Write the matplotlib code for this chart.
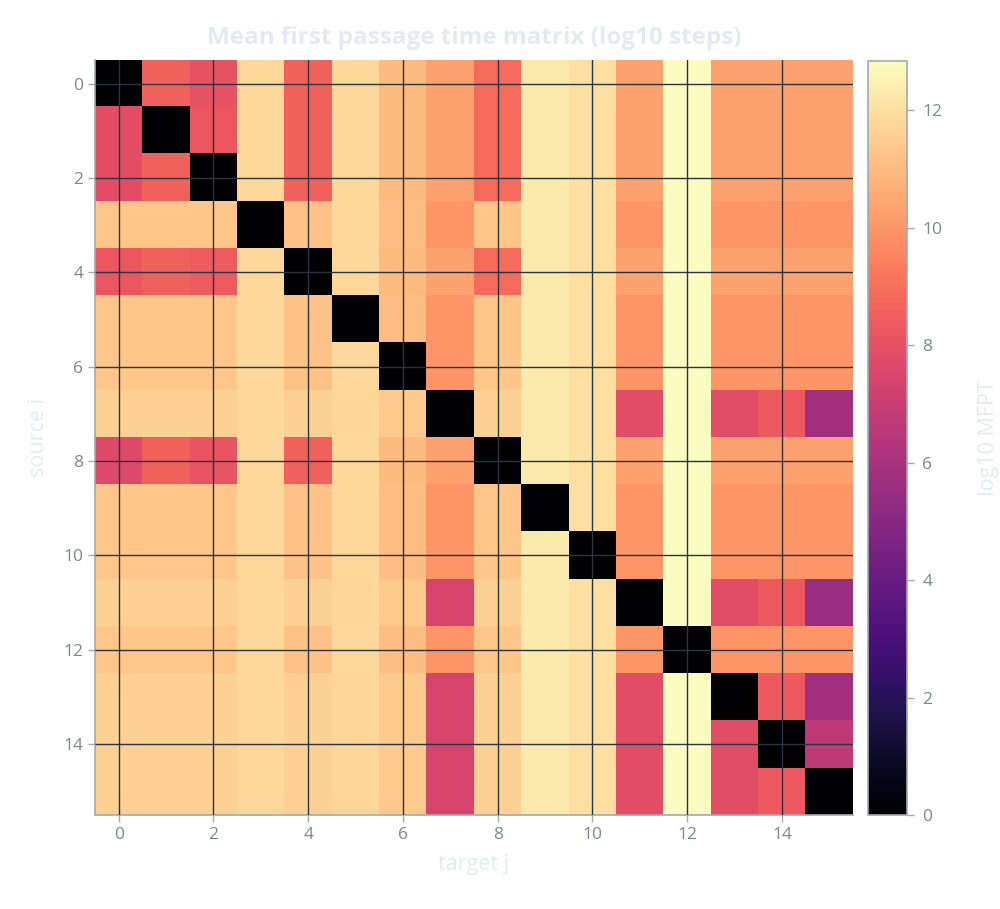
import numpy as np
import matplotlib
matplotlib.use('Agg')
import matplotlib.pyplot as plt

plt.rcParams['font.family'] = ['Open Sans', 'DejaVu Sans']

# log10 mean first passage time, one list per source state i (targets j = 0..15)
src_0 = [0.0, 8.6, 8.1, 11.8, 8.6, 11.8, 11.0, 10.3, 8.85, 12.3, 12.0, 10.3, 12.8, 10.3, 10.3, 10.3]
src_1 = [7.9, 0.0, 8.2, 11.8, 8.6, 11.8, 11.0, 10.3, 8.85, 12.3, 12.0, 10.3, 12.8, 10.3, 10.3, 10.3]
src_2 = [7.9, 8.6, 0.0, 11.8, 8.6, 11.8, 11.0, 10.3, 8.85, 12.3, 12.0, 10.3, 12.8, 10.3, 10.3, 10.3]
src_3 = [11.3, 11.3, 11.3, 0.0, 11.2, 11.8, 11.1, 10.0, 11.3, 12.3, 12.0, 10.0, 12.8, 10.0, 10.0, 10.0]
src_4 = [8.2, 8.6, 8.4, 11.8, 0.0, 11.8, 11.0, 10.3, 8.85, 12.3, 12.0, 10.3, 12.8, 10.3, 10.3, 10.3]
src_5 = [11.3, 11.3, 11.3, 11.8, 11.2, 0.0, 11.1, 10.0, 11.3, 12.3, 12.0, 10.0, 12.8, 10.0, 10.0, 10.0]
src_6 = [11.3, 11.3, 11.3, 11.8, 11.2, 11.8, 0.0, 10.0, 11.3, 12.3, 12.0, 10.0, 12.8, 10.0, 10.0, 10.0]
src_7 = [11.6, 11.6, 11.6, 11.8, 11.6, 11.75, 11.4, 0.0, 11.6, 12.3, 12.0, 7.85, 12.8, 7.85, 8.35, 5.8]
src_8 = [7.7, 8.6, 8.15, 11.8, 8.6, 11.8, 11.0, 10.3, 0.0, 12.3, 12.0, 10.3, 12.8, 10.3, 10.3, 10.3]
src_9 = [11.3, 11.3, 11.3, 11.8, 11.2, 11.8, 11.1, 10.0, 11.3, 0.0, 12.0, 10.0, 12.8, 10.0, 10.0, 10.0]
src_10 = [11.3, 11.3, 11.3, 11.8, 11.2, 11.8, 11.1, 10.0, 11.3, 12.3, 0.0, 10.0, 12.8, 10.0, 10.0, 10.0]
src_11 = [11.6, 11.6, 11.6, 11.8, 11.6, 11.75, 11.4, 7.45, 11.6, 12.3, 12.0, 0.0, 12.8, 7.85, 8.35, 5.6]
src_12 = [11.3, 11.3, 11.3, 11.8, 11.2, 11.8, 11.1, 10.0, 11.3, 12.3, 12.0, 10.0, 0.0, 10.0, 10.0, 10.0]
src_13 = [11.6, 11.6, 11.6, 11.8, 11.6, 11.75, 11.4, 7.45, 11.6, 12.3, 12.0, 7.85, 12.8, 0.0, 8.35, 5.8]
src_14 = [11.6, 11.6, 11.6, 11.8, 11.6, 11.75, 11.4, 7.45, 11.6, 12.3, 12.0, 7.85, 12.8, 7.85, 0.0, 6.7]
src_15 = [11.6, 11.6, 11.6, 11.8, 11.6, 11.75, 11.4, 7.45, 11.6, 12.3, 12.0, 7.85, 12.8, 7.85, 8.35, 0.0]

tick_pos = [0, 2, 4, 6, 8, 10, 12, 14]
cbar_ticks = [0, 2, 4, 6, 8, 10, 12]

mat = np.array([src_0, src_1, src_2, src_3, src_4, src_5, src_6, src_7,
                src_8, src_9, src_10, src_11, src_12, src_13, src_14, src_15])
n = mat.shape[0]

tick_col = '#7f868e'
spine_col = '#a3a9b0'
faint = '#e4eaf1'

fig = plt.figure(figsize=(10, 9.09), dpi=100)
ax = fig.add_axes([0.095, 0.1034, 0.758, 0.8306])
im = ax.imshow(mat, cmap='magma', vmin=0, vmax=12.83, aspect='auto',
               interpolation='nearest', extent=(-0.5, n - 0.5, n - 0.5, -0.5))

ax.set_xticks(tick_pos)
ax.set_yticks(tick_pos)
ax.set_axisbelow(False)
ax.grid(True, color='#283442', lw=1)
ax.tick_params(colors=spine_col, labelcolor=tick_col, labelsize=12.5, length=5, width=1)
for s in ['top', 'right']:
    ax.spines[s].set_visible(False)
for s in ['left', 'bottom']:
    ax.spines[s].set_color(spine_col)
    ax.spines[s].set_linewidth(1.2)

ax.set_xlabel('target j', color=faint, fontsize=15.5, labelpad=8)
ax.set_ylabel('source i', color=faint, fontsize=15.5, labelpad=10)
fig.text(0.474, 0.958, 'Mean first passage time matrix (log10 steps)', ha='center', va='center',
         color=faint, fontsize=17.5, fontweight='bold')

cax = fig.add_axes([0.868, 0.1034, 0.039, 0.829])
cb = fig.colorbar(im, cax=cax, ticks=cbar_ticks)
cb.outline.set_edgecolor(spine_col)
cb.outline.set_linewidth(1.2)
cb.ax.tick_params(colors=spine_col, labelcolor=tick_col, labelsize=12.5, length=5, width=1, pad=6)
cb.set_label('log10 MFPT', color=faint, fontsize=15.5, labelpad=26)

fig.savefig('out.png', dpi=100)
